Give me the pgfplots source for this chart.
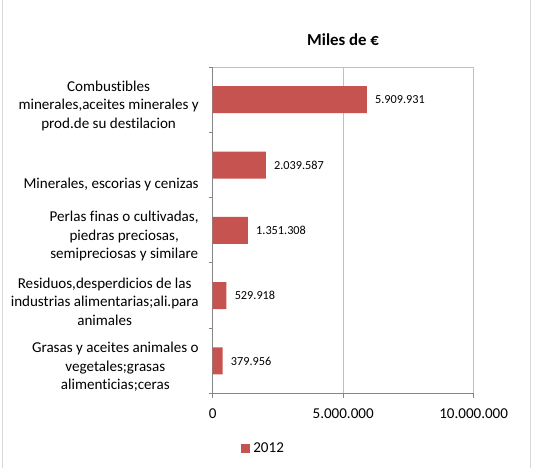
\documentclass[border=0pt]{standalone}
\usepackage{fontspec}
\setmainfont{Carlito}[Ligatures=NoCommon]
\usepackage{pgfplots}
\pgfplotsset{compat=1.18}

\definecolor{barred}{HTML}{C65350}
\definecolor{axisgray}{HTML}{868686}
\definecolor{gridgray}{HTML}{C0C0C0}
\definecolor{framegray}{HTML}{D9D9D9}

\newcommand{\lbl}{\fontsize{11.3}{13.9}\selectfont}

\begin{document}
\begin{tikzpicture}
% page = 533 x 468 px, 1px = 0.75pt
\path[use as bounding box] (0,0) rectangle (399.75pt,-351pt);
\draw[framegray, line width=0.75pt] (1.5pt,0) -- (1.5pt,-351pt);
\draw[framegray, line width=0.75pt] (397.5pt,0) -- (397.5pt,-351pt);

\node[font=\fontsize{12.6}{15}\selectfont\bfseries] at (257.3pt,-30pt) {Miles de €};

\begin{axis}[
    scale only axis,
    width=195.75pt, height=245pt,
    at={(159.5pt,-50.25pt)}, anchor=north west,
    xbar, bar width=20.25pt,
    xmin=0, xmax=10000000,
    ymin=-0.5, ymax=4.5,
    enlargelimits=false,
    axis x line*=bottom, axis y line*=left,
    axis line style={-, axisgray, line width=0.75pt},
    tick align=outside,
    major tick length=3pt, minor tick length=3pt,
    tick style={axisgray, line width=0.75pt},
    every major y tick/.append style={draw=none},
    xtick={0,5000000,10000000},
    xticklabels={0,5.000.000,10.000.000},
    scaled x ticks=false,
    xticklabel style={font=\lbl, yshift=-5pt},
    ytick={0,1,2,3,4},
    minor ytick={-0.5,0.5,1.5,2.5,3.5,4.5},
    yticklabels={
      {Grasas y aceites animales o\\vegetales;grasas\\alimenticias;ceras},
      {Residuos,desperdicios de las\\industrias alimentarias;ali.para\\animales},
      {Perlas finas o cultivadas,\\piedras preciosas,\\semipreciosas y similare},
      {~\\~\\Minerales, escorias y cenizas},
      {Combustibles\\minerales,aceites minerales y\\prod.de su destilacion}
    },
    yticklabel style={font=\lbl, align=center, anchor=east, xshift=-4pt, yshift=-4.5pt},
    xmajorgrids,
    grid style={gridgray, line width=0.75pt},
    point meta=explicit symbolic,
    nodes near coords,
    nodes near coords style={font=\fontsize{9.2}{11}\selectfont, anchor=west, inner sep=0pt, xshift=6pt, text=black},
    legend style={at={(0.197,-0.168)}, anchor=center, draw=none, fill=none,
                  font=\lbl, inner sep=0pt, nodes={inner sep=2.5pt}},
    legend image code/.code={\fill[#1] (0pt,-3.4pt) rectangle (6.8pt,3.4pt);},
]
\draw[gridgray, line width=0.75pt] (rel axis cs:0,1) -- (rel axis cs:1,1);
\addplot[fill=barred, draw=none] table[x=v, y=c, meta=lab] {
c v lab
0 379956 379.956
1 529918 529.918
2 1351308 1.351.308
3 2039587 2.039.587
4 5909931 5.909.931
};
\legend{2012}
\end{axis}
\end{tikzpicture}
\end{document}
